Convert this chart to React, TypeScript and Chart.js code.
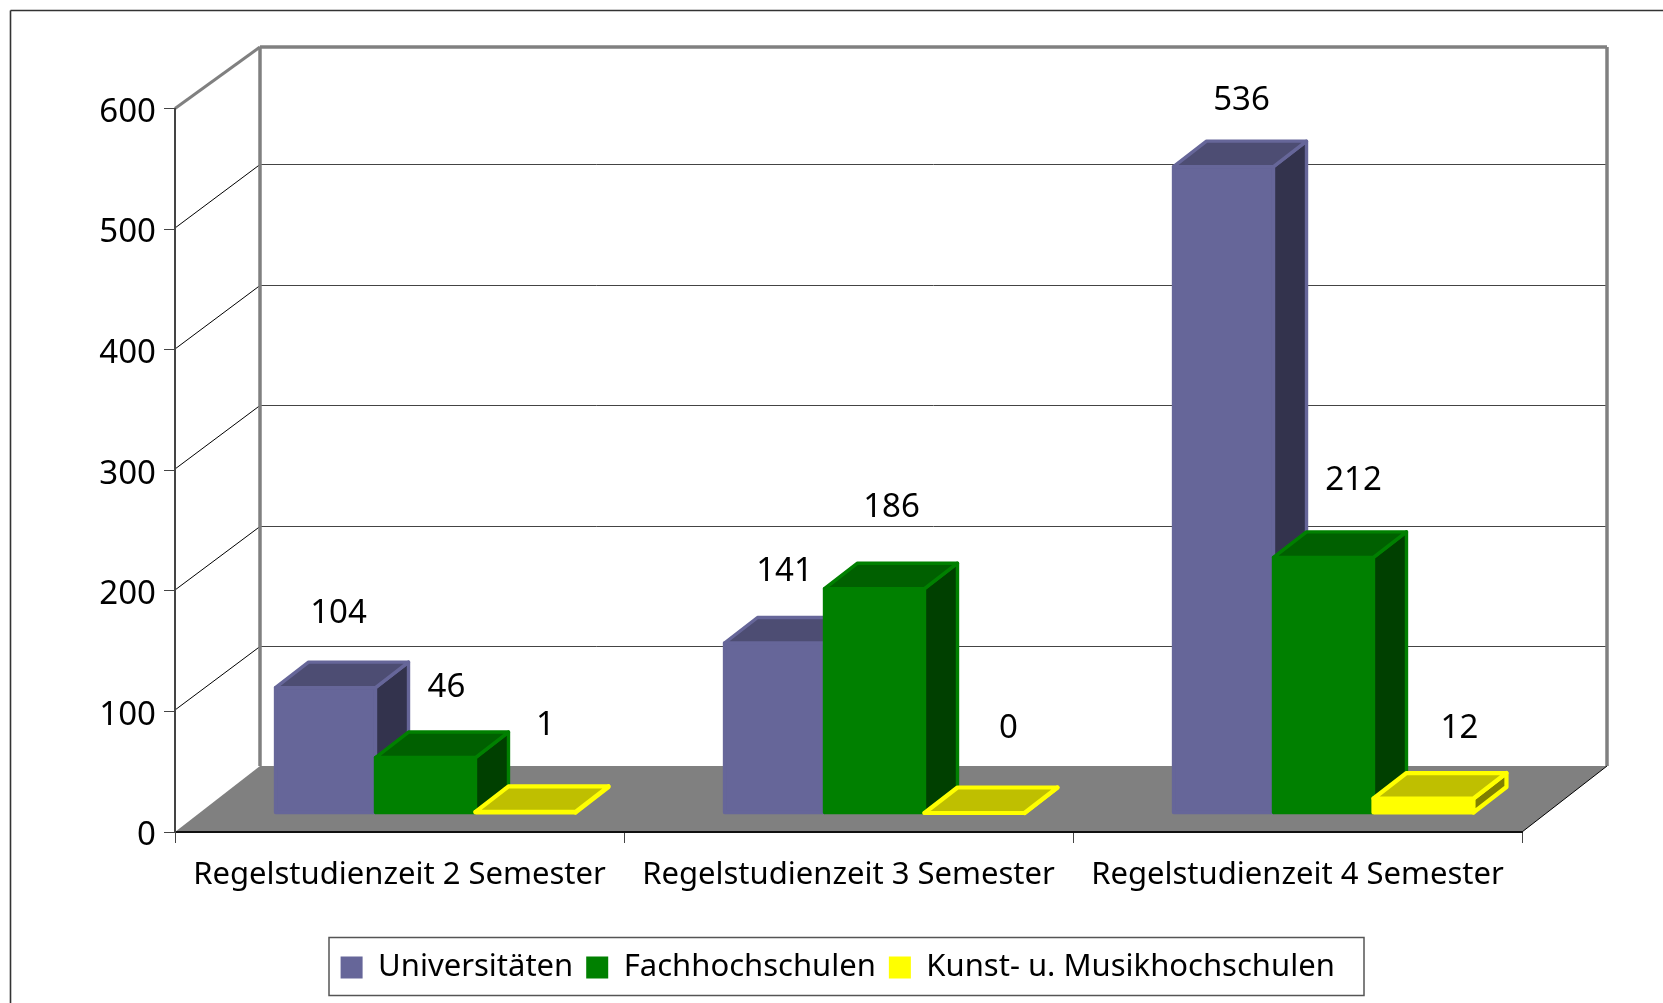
import React, { useEffect, useRef } from "react";
import { Chart, registerables } from "chart.js";

Chart.register(...registerables);

const categories = [
  "Regelstudienzeit 2 Semester",
  "Regelstudienzeit 3 Semester",
  "Regelstudienzeit 4 Semester",
];
const universitaeten = [104, 141, 536];
const fachhochschulen = [46, 186, 212];
const kunstMusik = [1, 0, 12];
const seriesNames = ["Universitäten", "Fachhochschulen", "Kunst- u. Musikhochschulen"];

const FONT = '"Noto Sans", sans-serif';
const FONT_SIZE = 31;
const NUMBER_SIZE = 33;
const W = 1663;
const H = 1003;
const PLOT = { left: 175, right: 1522, top: 108.5, bottom: 832 };
const WALL = { dx: 85, dy: -64.5, topY: 47, floorY: 766 };
const BAR_SHIFT = { dx: 26, dy: -19 };
const BAR_DEPTH = { dx: 33, dy: -25.5 };
const faces = [
  { front: "#666699", top: "#4d4d73", side: "#33334d", stroke: 3.4 },
  { front: "#008000", top: "#006000", side: "#004000", stroke: 3.4 },
  { front: "#ffff00", top: "#bfbf00", side: "#808000", stroke: 4.2 },
];
const labelNudgeX = [[13, 10, 18], [21, 17, 30], [20, 34, 36]];
const labelNudgeY = [[-74, -71, -66], [-70, -81, -76.5], [-86, -84, -69.5]];

function poly(ctx: CanvasRenderingContext2D, pts: number[][], fill: string, stroke: string | null, lw = 0) {
  ctx.beginPath();
  pts.forEach((p, i) => (i ? ctx.lineTo(p[0], p[1]) : ctx.moveTo(p[0], p[1])));
  ctx.closePath();
  ctx.fillStyle = fill;
  ctx.fill();
  if (stroke) {
    ctx.strokeStyle = stroke;
    ctx.lineWidth = lw;
    ctx.lineJoin = "round";
    ctx.stroke();
  }
}

function seg(ctx: CanvasRenderingContext2D, x1: number, y1: number, x2: number, y2: number, color: string, w: number) {
  ctx.beginPath();
  ctx.moveTo(x1, y1);
  ctx.lineTo(x2, y2);
  ctx.strokeStyle = color;
  ctx.lineWidth = w;
  ctx.stroke();
}

const scenePlugin = {
  id: "scene3d",
  beforeLayout(chart: any) {
    // the legend sits in its own frame and takes no room from the plot
    const lg = chart.legend;
    if (lg && !lg.__wrapped) {
      const fit = lg.fit;
      lg.fit = function () {
        fit.call(this);
        this.height = 0;
      };
      lg.__wrapped = true;
    }
  },
  afterLayout(chart: any) {
    const lg = chart.legend;
    if (lg) {
      lg.left = 327.6;
      lg.right = 1400;
      lg.top = 939;
      lg.bottom = 1003;
    }
  },
  beforeDraw(chart: any) {
    const { ctx, chartArea: a, scales } = chart;
    ctx.save();
    ctx.fillStyle = "#ffffff";
    ctx.fillRect(0, 0, W, H);
    // outer frame: only top and left edges are inside the picture
    ctx.lineCap = "butt";
    seg(ctx, 10.5, 10.5, W, 10.5, "#333333", 1.6);
    seg(ctx, 10.5, 10.5, 10.5, H, "#333333", 1.6);
    // floor
    poly(
      ctx,
      [
        [a.left, a.bottom],
        [a.right, a.bottom],
        [a.right + WALL.dx, WALL.floorY],
        [a.left + WALL.dx, WALL.floorY],
      ],
      "#808080",
      null
    );
    // gridlines on the back wall and slanted on the side wall
    const y = scales.y;
    y.ticks.forEach((t: any) => {
      if (t.value <= 0 || t.value >= 600) return;
      const py = Math.round(y.getPixelForValue(t.value));
      seg(ctx, a.left, py - 1, a.left + WALL.dx, py + WALL.dy, "#000000", 1);
      seg(ctx, a.left + WALL.dx, py + WALL.dy, a.right + WALL.dx, py + WALL.dy, "#444444", 1);
    });
    // thick wall outline
    seg(ctx, a.left, a.top, a.left + WALL.dx, WALL.topY, "#808080", 3);
    seg(ctx, a.left + WALL.dx, WALL.topY, a.right + WALL.dx, WALL.topY, "#808080", 3.5);
    seg(ctx, a.left + WALL.dx, WALL.topY, a.left + WALL.dx, WALL.floorY, "#808080", 3.5);
    seg(ctx, a.right + WALL.dx, WALL.topY, a.right + WALL.dx, WALL.floorY, "#808080", 3.5);
    seg(ctx, a.right, a.bottom, a.right + WALL.dx, WALL.floorY, "#000000", 1);
    // legend frame
    ctx.strokeStyle = "#555555";
    ctx.lineWidth = 1.5;
    ctx.strokeRect(329, 937.5, 1035, 58);
    ctx.restore();
  },
  beforeDatasetsDraw(chart: any) {
    const { ctx } = chart;
    ctx.save();
    ctx.translate(BAR_SHIFT.dx, BAR_SHIFT.dy);
    chart.data.datasets.forEach((_: any, i: number) => {
      const meta = chart.getDatasetMeta(i);
      meta.controller.draw();
      const c = faces[i];
      meta.data.forEach((el: any) => {
        const hw = el.width / 2;
        const L = el.x - hw;
        const R = el.x + hw;
        const T = el.y;
        const B = el.base;
        const { dx, dy } = BAR_DEPTH;
        poly(ctx, [[L, T], [R, T], [R, B], [L, B]], c.front, c.front, c.stroke);
        poly(ctx, [[R, T], [R + dx, T + dy], [R + dx, B + dy], [R, B]], c.side, c.front, c.stroke);
        poly(ctx, [[L, T], [L + dx, T + dy], [R + dx, T + dy], [R, T]], c.top, c.front, c.stroke);
      });
    });
    ctx.restore();
    return false;
  },
  afterDraw(chart: any) {
    const { ctx } = chart;
    ctx.save();
    ctx.font = `${NUMBER_SIZE}px ${FONT}`;
    ctx.fillStyle = "#000000";
    ctx.textAlign = "center";
    ctx.textBaseline = "middle";
    chart.data.datasets.forEach((ds: any, i: number) => {
      chart.getDatasetMeta(i).data.forEach((el: any, j: number) => {
        ctx.fillText(
          String(ds.data[j]),
          el.x + BAR_SHIFT.dx + labelNudgeX[i][j],
          el.y + BAR_SHIFT.dy + labelNudgeY[i][j]
        );
      });
    });
    ctx.restore();
  },
};

export default function App() {
  const ref = useRef<HTMLCanvasElement>(null);
  useEffect(() => {
    const chart = new Chart(ref.current as HTMLCanvasElement, {
      type: "bar",
      data: {
        labels: categories,
        datasets: [universitaeten, fachhochschulen, kunstMusik].map((data, i) => ({
          label: seriesNames[i],
          data,
          backgroundColor: faces[i].front,
          borderWidth: 0,
          categoryPercentage: 0.668,
          barPercentage: 1,
          clip: false as any,
        })),
      },
      options: {
        responsive: false,
        animation: false,
        devicePixelRatio: 1,
        layout: { padding: { top: PLOT.top, right: W - PLOT.right, left: 0, bottom: 0 } },
        plugins: {
          tooltip: { enabled: false },
          legend: {
            display: true,
            position: "bottom",
            align: "start",
            labels: {
              boxWidth: 22,
              boxHeight: 22,
              padding: 13,
              color: "#000000",
              font: { family: FONT, size: FONT_SIZE },
            },
          },
        },
        scales: {
          x: {
            afterFit: (s: any) => {
              s.height = H - PLOT.bottom;
            },
            border: { color: "#111111", width: 2 },
            grid: { drawOnChartArea: false, drawTicks: true, tickLength: 11, color: "#444444" },
            ticks: {
              color: "#000000",
              font: { family: FONT, size: FONT_SIZE },
              padding: 14,
              maxRotation: 0,
              autoSkip: false,
            },
          },
          y: {
            min: 0,
            max: 600,
            afterFit: (s: any) => {
              s.width = PLOT.left;
            },
            border: { color: "#444444", width: 2 },
            grid: { drawOnChartArea: false, drawTicks: true, tickLength: 11, color: "#444444" },
            ticks: {
              stepSize: 100,
              color: "#000000",
              font: { family: FONT, size: NUMBER_SIZE },
              padding: 8,
              labelOffset: 4,
            },
          },
        },
      },
      plugins: [scenePlugin as any],
    });
    return () => chart.destroy();
  }, []);
  return (
    <div style={{ position: "absolute", left: 0, top: 0, width: W, height: H, overflow: "hidden", background: "#fff" }}>
      <canvas ref={ref} width={W} height={H} style={{ display: "block" }} />
    </div>
  );
}
